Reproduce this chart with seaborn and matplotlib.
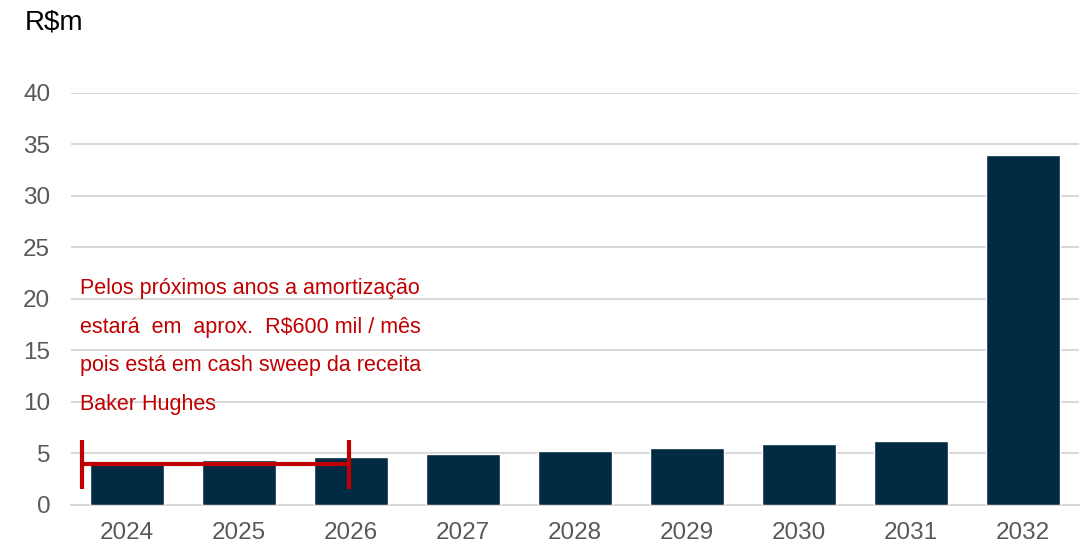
import pandas as pd
import seaborn as sns
import matplotlib.pyplot as plt

# Amortization schedule (R$m)
years = ['2024', '2025', '2026', '2027', '2028', '2029', '2030', '2031', '2032']
values = [4.1, 4.4, 4.65, 4.95, 5.2, 5.5, 5.9, 6.25, 34.0]

note_lines = [
    'Pelos próximos anos a amortização',
    'estará  em  aprox.  R$600 mil / mês',
    'pois está em cash sweep da receita',
    'Baker Hughes',
]

df = pd.DataFrame({'year': years, 'value': values})

sns.set_theme(style='white')
plt.rcParams['font.family'] = ['Liberation Sans', 'DejaVu Sans']

fig = plt.figure(figsize=(10.84, 5.45), dpi=100)
ax = fig.add_axes([0.0655, 0.0734, 0.9295, 0.756])

sns.barplot(data=df, x='year', y='value', color='#012A43', width=0.66,
            saturation=1, ax=ax, zorder=3)

ax.set_ylim(0, 40)
ax.set_xlim(-0.5, 8.5)
ax.set_yticks(range(0, 41, 5))
ax.yaxis.grid(True, color='#D9D9D9', linewidth=1.5, zorder=0)
ax.set_axisbelow(True)
for side in ['top', 'right', 'left']:
    ax.spines[side].set_visible(False)
ax.spines['bottom'].set_color('#D9D9D9')
ax.spines['bottom'].set_linewidth(1.5)
ax.tick_params(axis='both', length=0, labelsize=17.5, colors='#595959')
ax.tick_params(axis='y', pad=15)
ax.tick_params(axis='x', pad=12)
ax.set_xlabel('')
ax.set_ylabel('')

fig.text(0.023, 0.958, 'R$m', fontsize=20, color='black', va='center', ha='left')

# red bracket
red = '#C00000'
ax.plot([-0.4, 1.98], [4.0, 4.0], color=red, lw=3, zorder=4, solid_capstyle='butt')
ax.plot([-0.4, -0.4], [1.55, 6.3], color=red, lw=3, zorder=4, solid_capstyle='butt')
ax.plot([1.98, 1.98], [1.55, 6.3], color=red, lw=3, zorder=4, solid_capstyle='butt')

# note text
ys = [21.0, 17.25, 13.5, 9.75]
for line, yv in zip(note_lines, ys):
    ax.text(-0.42, yv, line, color=red, fontsize=15.5, ha='left', va='center', zorder=5)

plt.savefig('out.png', dpi=100)
